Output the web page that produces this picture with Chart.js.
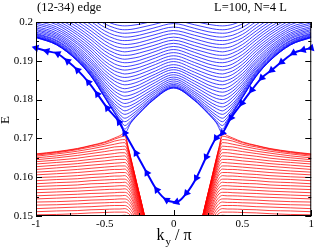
<!DOCTYPE html>
<html>
<head>
<meta charset="utf-8">
<script src="https://cdn.jsdelivr.net/npm/chart.js@4.4.1/dist/chart.umd.min.js"></script>
<style>
  html, body { margin: 0; padding: 0; background: #fff; }
  #wrap { width: 316px; height: 250px; }
</style>
</head>
<body>
<div id="wrap"><canvas id="bands" width="316" height="250"></canvas></div>
<script>
// k_y / pi grid of the upper (blue) bulk bands
const kBlue = [-1, -0.85, -0.7, -0.6, -0.5, -0.43, -0.39, -0.355, -0.31, -0.25, -0.15, 0,
  0.15, 0.25, 0.31, 0.355, 0.39, 0.43, 0.5, 0.6, 0.7, 0.85, 1];

// upper bulk bands, one row per band
const blueBands = [
  [.1960,.1941,.1900,.1860,.1805,.1765,.1742,.1714,.1740,.1764,.1798,.1830,.1798,.1764,.1740,.1714,.1742,.1765,.1805,.1860,.1900,.1941,.1960],
  [.1960,.1941,.1900,.1860,.1805,.1766,.1744,.1724,.1742,.1765,.1799,.1830,.1799,.1765,.1742,.1724,.1744,.1766,.1805,.1860,.1900,.1941,.1960],
  [.1961,.1942,.1901,.1861,.1807,.1768,.1748,.1733,.1746,.1767,.1800,.1832,.1800,.1767,.1746,.1733,.1748,.1768,.1807,.1861,.1901,.1942,.1961],
  [.1962,.1943,.1902,.1863,.1809,.1772,.1754,.1743,.1753,.1772,.1803,.1833,.1803,.1772,.1753,.1743,.1754,.1772,.1809,.1863,.1902,.1943,.1962],
  [.1963,.1944,.1904,.1865,.1813,.1778,.1761,.1752,.1760,.1777,.1806,.1836,.1806,.1777,.1760,.1752,.1761,.1778,.1813,.1865,.1904,.1944,.1963],
  [.1965,.1946,.1906,.1868,.1817,.1784,.1769,.1762,.1768,.1783,.1811,.1839,.1811,.1783,.1768,.1762,.1769,.1784,.1817,.1868,.1906,.1946,.1965],
  [.1967,.1948,.1909,.1871,.1821,.1790,.1778,.1771,.1777,.1790,.1816,.1843,.1816,.1790,.1777,.1771,.1778,.1790,.1821,.1871,.1909,.1948,.1967],
  [.1969,.1951,.1912,.1874,.1827,.1798,.1786,.1781,.1785,.1797,.1821,.1848,.1821,.1797,.1785,.1781,.1786,.1798,.1827,.1874,.1912,.1951,.1969],
  [.1971,.1953,.1915,.1879,.1833,.1806,.1795,.1790,.1794,.1805,.1827,.1853,.1827,.1805,.1794,.1790,.1795,.1806,.1833,.1879,.1915,.1953,.1971],
  [.1974,.1957,.1919,.1883,.1839,.1814,.1804,.1800,.1803,.1813,.1834,.1858,.1834,.1813,.1803,.1800,.1804,.1814,.1839,.1883,.1919,.1957,.1974],
  [.1978,.1960,.1923,.1888,.1846,.1822,.1813,.1809,.1812,.1821,.1841,.1864,.1841,.1821,.1812,.1809,.1813,.1822,.1846,.1888,.1923,.1960,.1978],
  [.1981,.1964,.1927,.1894,.1853,.1830,.1822,.1819,.1822,.1830,.1848,.1870,.1848,.1830,.1822,.1819,.1822,.1830,.1853,.1894,.1927,.1964,.1981],
  [.1985,.1968,.1932,.1899,.1860,.1839,.1831,.1828,.1831,.1838,.1856,.1877,.1856,.1838,.1831,.1828,.1831,.1839,.1860,.1899,.1932,.1968,.1985],
  [.1989,.1972,.1937,.1905,.1867,.1848,.1841,.1838,.1840,.1847,.1863,.1883,.1863,.1847,.1840,.1838,.1841,.1848,.1867,.1905,.1937,.1972,.1989],
  [.1994,.1977,.1943,.1912,.1875,.1856,.1850,.1847,.1850,.1856,.1871,.1890,.1871,.1856,.1850,.1847,.1850,.1856,.1875,.1912,.1943,.1977,.1994],
  [.1998,.1982,.1948,.1918,.1883,.1865,.1859,.1857,.1859,.1865,.1879,.1898,.1879,.1865,.1859,.1857,.1859,.1865,.1883,.1918,.1948,.1982,.1998],
  [.2003,.1987,.1954,.1925,.1891,.1874,.1869,.1866,.1868,.1874,.1888,.1905,.1888,.1874,.1868,.1866,.1869,.1874,.1891,.1925,.1954,.1987,.2003],
  [.2008,.1993,.1960,.1932,.1899,.1883,.1878,.1876,.1878,.1883,.1896,.1913,.1896,.1883,.1878,.1876,.1878,.1883,.1899,.1932,.1960,.1993,.2008],
  [.2014,.1998,.1967,.1939,.1908,.1892,.1887,.1885,.1887,.1892,.1905,.1921,.1905,.1892,.1887,.1885,.1887,.1892,.1908,.1939,.1967,.1998,.2014],
  [.2019,.2004,.1973,.1946,.1916,.1902,.1897,.1895,.1896,.1901,.1913,.1929,.1913,.1901,.1896,.1895,.1897,.1902,.1916,.1946,.1973,.2004,.2019],
  [.2025,.2010,.1980,.1954,.1925,.1911,.1906,.1904,.1906,.1910,.1922,.1937,.1922,.1910,.1906,.1904,.1906,.1911,.1925,.1954,.1980,.2010,.2025],
  [.2031,.2016,.1987,.1961,.1933,.1920,.1915,.1914,.1915,.1920,.1930,.1945,.1930,.1920,.1915,.1914,.1915,.1920,.1933,.1961,.1987,.2016,.2031],
  [.2037,.2023,.1994,.1969,.1942,.1929,.1925,.1923,.1925,.1929,.1939,.1953,.1939,.1929,.1925,.1923,.1925,.1929,.1942,.1969,.1994,.2023,.2037],
  [.2043,.2029,.2001,.1977,.1951,.1938,.1934,.1933,.1934,.1938,.1948,.1961,.1948,.1938,.1934,.1933,.1934,.1938,.1951,.1977,.2001,.2029,.2043],
  [.2049,.2036,.2008,.1985,.1959,.1948,.1944,.1942,.1943,.1947,.1957,.1970,.1957,.1947,.1943,.1942,.1944,.1948,.1959,.1985,.2008,.2036,.2049],
  [.2056,.2043,.2016,.1993,.1968,.1957,.1953,.1952,.1953,.1957,.1966,.1978,.1966,.1957,.1953,.1952,.1953,.1957,.1968,.1993,.2016,.2043,.2056],
  [.2063,.2049,.2023,.2001,.1977,.1966,.1963,.1961,.1962,.1966,.1975,.1987,.1975,.1966,.1962,.1961,.1963,.1966,.1977,.2001,.2023,.2049,.2063],
  [.2069,.2057,.2031,.2009,.1986,.1976,.1972,.1971,.1972,.1975,.1984,.1996,.1984,.1975,.1972,.1971,.1972,.1976,.1986,.2009,.2031,.2057,.2069],
  [.2076,.2064,.2039,.2017,.1995,.1985,.1981,.1980,.1981,.1985,.1993,.2004,.1993,.1985,.1981,.1980,.1981,.1985,.1995,.2017,.2039,.2064,.2076],
  [.2083,.2071,.2046,.2026,.2004,.1994,.1991,.1990,.1991,.1994,.2002,.2013,.2002,.1994,.1991,.1990,.1991,.1994,.2004,.2026,.2046,.2071,.2083]
];

// k_y / pi grid of the lower (red) bulk bands: left branch, then right branch
const kRed = [-1, -0.85, -0.7, -0.6, -0.5, -0.43, -0.39, -0.355, -0.33, -0.3, -0.27, -0.24, -0.21,
  0.21, 0.24, 0.27, 0.3, 0.33, 0.355, 0.39, 0.43, 0.5, 0.6, 0.7, 0.85, 1];

const redBands = [
  [.1660,.1666,.1674,.1682,.1691,.1701,.1707,.1714,.1677,.1633,.1588,.1544,.1499,.1499,.1544,.1588,.1633,.1677,.1714,.1707,.1701,.1691,.1682,.1674,.1666,.1660],
  [.1659,.1665,.1673,.1681,.1689,.1698,.1703,.1706,.1676,.1633,.1588,.1544,.1499,.1499,.1544,.1588,.1633,.1676,.1706,.1703,.1698,.1689,.1681,.1673,.1665,.1659],
  [.1657,.1663,.1671,.1678,.1685,.1693,.1696,.1697,.1673,.1631,.1587,.1543,.1498,.1498,.1543,.1587,.1631,.1673,.1697,.1696,.1693,.1685,.1678,.1671,.1663,.1657],
  [.1654,.1660,.1667,.1673,.1680,.1685,.1688,.1689,.1669,.1629,.1585,.1542,.1497,.1497,.1542,.1585,.1629,.1669,.1689,.1688,.1685,.1680,.1673,.1667,.1660,.1654],
  [.1650,.1655,.1662,.1667,.1673,.1678,.1679,.1680,.1664,.1626,.1583,.1541,.1496,.1496,.1541,.1583,.1626,.1664,.1680,.1679,.1678,.1673,.1667,.1662,.1655,.1650],
  [.1645,.1650,.1656,.1661,.1666,.1670,.1671,.1672,.1658,.1623,.1581,.1539,.1495,.1495,.1539,.1581,.1623,.1658,.1672,.1671,.1670,.1666,.1661,.1656,.1650,.1645],
  [.1640,.1644,.1649,.1654,.1658,.1661,.1663,.1663,.1651,.1618,.1578,.1537,.1493,.1493,.1537,.1578,.1618,.1651,.1663,.1663,.1661,.1658,.1654,.1649,.1644,.1640],
  [.1634,.1638,.1642,.1646,.1650,.1653,.1654,.1655,.1644,.1613,.1575,.1534,.1491,.1491,.1534,.1575,.1613,.1644,.1655,.1654,.1653,.1650,.1646,.1642,.1638,.1634],
  [.1627,.1631,.1635,.1639,.1642,.1645,.1646,.1646,.1637,.1608,.1571,.1531,.1489,.1489,.1531,.1571,.1608,.1637,.1646,.1646,.1645,.1642,.1639,.1635,.1631,.1627],
  [.1620,.1624,.1628,.1631,.1634,.1636,.1637,.1638,.1629,.1603,.1567,.1528,.1486,.1486,.1528,.1567,.1603,.1629,.1638,.1637,.1636,.1634,.1631,.1628,.1624,.1620],
  [.1613,.1616,.1620,.1623,.1626,.1628,.1629,.1629,.1621,.1597,.1562,.1524,.1483,.1483,.1524,.1562,.1597,.1621,.1629,.1629,.1628,.1626,.1623,.1620,.1616,.1613],
  [.1606,.1609,.1612,.1615,.1618,.1620,.1620,.1621,.1613,.1590,.1557,.1520,.1480,.1480,.1520,.1557,.1590,.1613,.1621,.1620,.1620,.1618,.1615,.1612,.1609,.1606],
  [.1599,.1601,.1604,.1607,.1609,.1611,.1612,.1612,.1606,.1584,.1552,.1516,.1476,.1476,.1516,.1552,.1584,.1606,.1612,.1612,.1611,.1609,.1607,.1604,.1601,.1599],
  [.1591,.1594,.1596,.1599,.1601,.1603,.1603,.1604,.1597,.1577,.1546,.1511,.1472,.1472,.1511,.1546,.1577,.1597,.1604,.1603,.1603,.1601,.1599,.1596,.1594,.1591],
  [.1583,.1586,.1588,.1591,.1593,.1594,.1595,.1595,.1589,.1570,.1541,.1506,.1468,.1468,.1506,.1541,.1570,.1589,.1595,.1595,.1594,.1593,.1591,.1588,.1586,.1583],
  [.1576,.1578,.1580,.1583,.1584,.1586,.1586,.1587,.1581,.1563,.1535,.1502,.1464,.1464,.1502,.1535,.1563,.1581,.1587,.1586,.1586,.1584,.1583,.1580,.1578,.1576],
  [.1568,.1570,.1572,.1574,.1576,.1577,.1578,.1578,.1573,.1556,.1529,.1496,.1460,.1460,.1496,.1529,.1556,.1573,.1578,.1578,.1577,.1576,.1574,.1572,.1570,.1568],
  [.1560,.1562,.1564,.1566,.1568,.1569,.1569,.1570,.1565,.1548,.1522,.1491,.1455,.1455,.1491,.1522,.1548,.1565,.1570,.1569,.1569,.1568,.1566,.1564,.1562,.1560],
  [.1552,.1554,.1556,.1558,.1559,.1560,.1561,.1561,.1557,.1541,.1516,.1485,.1450,.1450,.1485,.1516,.1541,.1557,.1561,.1561,.1560,.1559,.1558,.1556,.1554,.1552],
  [.1544,.1546,.1548,.1549,.1551,.1552,.1552,.1553,.1548,.1533,.1509,.1480,.1445,.1445,.1480,.1509,.1533,.1548,.1553,.1552,.1552,.1551,.1549,.1548,.1546,.1544],
  [.1536,.1537,.1539,.1541,.1542,.1543,.1544,.1544,.1540,.1526,.1502,.1474,.1440,.1440,.1474,.1502,.1526,.1540,.1544,.1544,.1543,.1542,.1541,.1539,.1537,.1536],
  [.1528,.1529,.1531,.1533,.1534,.1535,.1535,.1536,.1532,.1518,.1496,.1468,.1435,.1435,.1468,.1496,.1518,.1532,.1536,.1535,.1535,.1534,.1533,.1531,.1529,.1528],
  [.1519,.1521,.1523,.1524,.1526,.1527,.1527,.1527,.1523,.1510,.1489,.1461,.1429,.1429,.1461,.1489,.1510,.1523,.1527,.1527,.1527,.1526,.1524,.1523,.1521,.1519],
  [.1511,.1513,.1514,.1516,.1517,.1518,.1518,.1519,.1515,.1502,.1481,.1455,.1423,.1423,.1455,.1481,.1502,.1515,.1519,.1518,.1518,.1517,.1516,.1514,.1513,.1511],
  [.1503,.1504,.1506,.1508,.1509,.1510,.1510,.1510,.1507,.1495,.1474,.1448,.1418,.1418,.1448,.1474,.1495,.1507,.1510,.1510,.1510,.1509,.1508,.1506,.1504,.1503],
  [.1495,.1496,.1498,.1499,.1500,.1501,.1501,.1502,.1498,.1487,.1467,.1442,.1412,.1412,.1442,.1467,.1487,.1498,.1502,.1501,.1501,.1500,.1499,.1498,.1496,.1495]
];

// the (12-34) edge state, with its markers
const edgeK = [-1, -0.921, -0.842, -0.770, -0.698, -0.619, -0.554, -0.482, -0.396, -0.355,
  -0.273, -0.194, -0.122, -0.050, 0.022, 0.094, 0.165, 0.237, 0.309, 0.355,
  0.417, 0.496, 0.568, 0.640, 0.712, 0.784, 0.871, 0.942, 1];
const edgeE = [.1933, .1925, .1918, .1899, .1876, .1845, .1814, .1778, .1742, .1714,
  .1662, .1611, .1567, .1541, .1536, .1559, .1598, .1652, .1701, .1714,
  .1753, .1791, .1825, .1856, .1876, .1897, .1920, .1928, .1933];

const xTicks = [-1, -0.5, 0, 0.5, 1];
const xMinor = [-0.75, -0.25, 0.25, 0.75];
const yTicks = [0.15, 0.16, 0.17, 0.18, 0.19, 0.2];
const yMinor = [0.155, 0.165, 0.175, 0.185, 0.195];

const serif = '"Liberation Serif", "DejaVu Serif", serif';

function toPoints(ks, es) {
  return ks.map((k, i) => ({ x: k, y: es[i] }));
}

// triangles point back along the curve, towards k = -1
function arrowAngle(ctx) {
  const i = ctx.dataIndex;
  const s = ctx.chart.scales;
  const a = Math.max(i - 1, 0), b = Math.min(i + 1, edgeK.length - 1);
  const dx = s.x.getPixelForValue(edgeK[a]) - s.x.getPixelForValue(edgeK[b]);
  const dy = s.y.getPixelForValue(edgeE[a]) - s.y.getPixelForValue(edgeE[b]);
  return Math.atan2(dx, -dy) * 180 / Math.PI;
}

const datasets = [];
datasets.push({
  data: toPoints(edgeK, edgeE),
  borderColor: '#0000ff',
  backgroundColor: '#0000ff',
  borderWidth: 2,
  pointStyle: 'triangle',
  pointRadius: 4.5,
  pointBorderWidth: 0,
  pointRotation: arrowAngle,
  cubicInterpolationMode: 'monotone',
  clip: false
});
blueBands.forEach(row => {
  datasets.push({
    data: toPoints(kBlue, row),
    borderColor: 'rgba(0,0,255,0.75)',
    borderWidth: 1,
    pointRadius: 0,
    cubicInterpolationMode: 'monotone'
  });
});
redBands.forEach(row => {
  const pts = toPoints(kRed, row);
  pts.splice(13, 0, { x: 0, y: null }); // break between the two branches
  datasets.push({
    data: pts,
    borderColor: 'rgba(255,0,0,0.75)',
    borderWidth: 1,
    pointRadius: 0,
    spanGaps: false,
    cubicInterpolationMode: 'monotone'
  });
});

const decorations = {
  id: 'decorations',
  afterDatasetsDraw(chart) {
    const { ctx, chartArea: a, scales: { x, y } } = chart;
    ctx.save();
    ctx.strokeStyle = '#000';
    ctx.lineWidth = 1;
    ctx.beginPath();
    const xt = (v, len) => {
      const px = Math.round(x.getPixelForValue(v)) + 0.5;
      ctx.moveTo(px, a.bottom); ctx.lineTo(px, a.bottom - len);
      ctx.moveTo(px, a.top); ctx.lineTo(px, a.top + len);
    };
    const yt = (v, len) => {
      const py = Math.round(y.getPixelForValue(v)) + 0.5;
      ctx.moveTo(a.left, py); ctx.lineTo(a.left + len, py);
      ctx.moveTo(a.right, py); ctx.lineTo(a.right - len, py);
    };
    xTicks.forEach(v => xt(v, 6));
    xMinor.forEach(v => xt(v, 3));
    yTicks.forEach(v => yt(v, 6));
    yMinor.forEach(v => yt(v, 3));
    ctx.stroke();
    ctx.strokeRect(a.left + 0.5, a.top + 0.5, a.right - a.left - 1, a.bottom - a.top - 1);
    ctx.restore();
  },
  afterDraw(chart) {
    const { ctx } = chart;
    ctx.save();
    ctx.fillStyle = '#000';
    ctx.textBaseline = 'alphabetic';
    ctx.font = '12.5px ' + serif;
    ctx.fillText('(12-34) edge', 37, 11);
    ctx.fillText('L=100, N=4 L', 214, 11);

    // x axis title: k_y / pi
    ctx.font = '16px ' + serif;
    const wk = ctx.measureText('k').width;
    const wr = ctx.measureText(' / π').width;
    ctx.font = '11px ' + serif;
    const wy = ctx.measureText('y').width;
    let x0 = 174 - (wk + 1 + wy + wr) / 2;
    ctx.font = '16px ' + serif;
    ctx.fillText('k', x0, 240);
    ctx.font = '11px ' + serif;
    ctx.fillText('y', x0 + wk + 1, 245);
    ctx.font = '16px ' + serif;
    ctx.fillText(' / π', x0 + wk + 1 + wy, 240);

    // y axis title
    ctx.translate(9, 120);
    ctx.rotate(-Math.PI / 2);
    ctx.textAlign = 'center';
    ctx.font = '13px ' + serif;
    ctx.fillText('E', 0, 0);
    ctx.restore();
  }
};

new Chart(document.getElementById('bands'), {
  type: 'line',
  data: { datasets: datasets },
  options: {
    responsive: false,
    devicePixelRatio: 1,
    animation: false,
    events: [],
    layout: { padding: { top: 22, right: 2, left: 0, bottom: 0 } },
    plugins: { legend: { display: false }, tooltip: { enabled: false } },
    scales: {
      x: {
        type: 'linear',
        min: -1,
        max: 1,
        grid: { display: false, drawTicks: false },
        border: { display: false },
        afterBuildTicks: s => { s.ticks = xTicks.map(v => ({ value: v })); },
        afterFit: s => { s.height = 34; },
        ticks: {
          color: '#000',
          font: { family: serif, size: 11 },
          padding: 2,
          maxRotation: 0,
          autoSkip: false,
          callback: v => String(v)
        }
      },
      y: {
        type: 'linear',
        min: 0.15,
        max: 0.2,
        grid: { display: false, drawTicks: false },
        border: { display: false },
        afterBuildTicks: s => { s.ticks = yTicks.map(v => ({ value: v })); },
        afterFit: s => { s.width = 36; },
        ticks: {
          color: '#000',
          font: { family: serif, size: 11 },
          padding: 3,
          autoSkip: false,
          callback: v => String(v)
        }
      }
    }
  },
  plugins: [decorations]
});
</script>
</body>
</html>
